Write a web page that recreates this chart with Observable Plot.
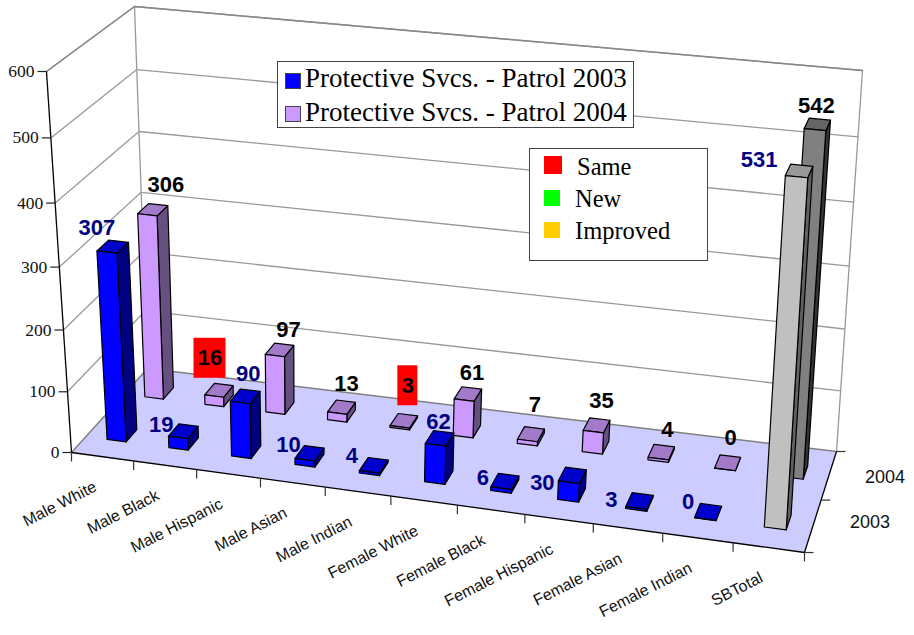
<!DOCTYPE html>
<html><head><meta charset="utf-8">
<script src="https://cdn.jsdelivr.net/npm/d3@7"></script>
<script src="https://cdn.jsdelivr.net/npm/@observablehq/plot@0.6"></script>
<style>
html,body{margin:0;padding:0;background:#fff}
#wrap{position:relative;width:914px;height:635px;overflow:hidden}
.lg{position:absolute;background:#fff;border:1.5px solid #444;box-sizing:border-box;font-family:"Liberation Serif",serif;color:#000;white-space:nowrap}
.row{position:absolute;line-height:1}
.sw{position:absolute;box-sizing:border-box}
</style></head><body><div id="wrap"></div>
<script>
const categories = ["Male White","Male Black","Male Hispanic","Male Asian","Male Indian","Female White","Female Black","Female Hispanic","Female Asian","Female Indian","SBTotal"];
const values2003 = [307,19,90,10,4,62,6,30,3,0,531];
const values2004 = [306,16,97,13,3,61,7,35,4,0,542];
const seriesLabels = ["2003","2004"];
const valueTicks = [0,100,200,300,400,500,600];
const highlighted2004 = ["Male Black","Male Indian"];

// Label displacement from the top of its bar, screen px
const nudge2003 = [[-16,-19],[-22,-6],[3,-22],[-21,-8],[-22,-9],[-1,-16],[-22,-3],[-30,8],[-28,-1],[-20,-10],[-40,-11]];
const nudge2004 = [[13,-25],[-9,-32],[9,-20],[5,-23],[4,-35],[4,-21],[4,-29],[5,-24],[6,-22],[3,-25],[-1,-18]];

const pal = {
  blue:{front:"#0000ff",top:"#0000cc",side:"#000080"},
  lilac:{front:"#cc99ff",top:"#a37ac9",side:"#665080"},
  g1:{front:"#c0c0c0",top:"#999999",side:"#606060"},
  g2:{front:"#808080",top:"#666666",side:"#333333"}
};

// Perspective frame of the 3-D box
function homography(q){
  const [[x0,y0],[x1,y1],[x2,y2],[x3,y3]] = q;
  const dx1=x1-x2,dx2=x3-x2,sx=x0-x1+x2-x3,dy1=y1-y2,dy2=y3-y2,sy=y0-y1+y2-y3;
  const det=dx1*dy2-dx2*dy1;
  const g=(sx*dy2-dx2*sy)/det,h=(dx1*sy-sx*dy1)/det;
  const a=x1-x0+g*x1,b=x3-x0+h*x3,d=y1-y0+g*y1,e=y3-y0+h*y3;
  return (u,v)=>{const n=g*u+h*v+1;return [(a*u+b*v+x0)/n,(d*u+e*v+y0)/n];};
}
const floorH = homography([[71,452],[804,552],[836,451],[147,368]]);
const ceilH  = homography([[46,71],[829,146],[862,70],[134,6]]);
const K = 1.055, VMAX = 600, N = categories.length, ODDS = 1.0428;
function P(u0,v,val){
  const u = ODDS*u0/(1+(ODDS-1)*u0);
  const w = val/VMAX, t = w/(w+K*(1-w));
  const a = floorH(u,v), b = ceilH(u,v);
  return [a[0]+(b[0]-a[0])*t, a[1]+(b[1]-a[1])*t];
}
const HALF = 0.155, DEPTH = [[0.18,0.32],[0.68,0.82]];

// Faces of the bars, back row first
const faces = [], labels = [];
[[values2004,1,nudge2004],[values2003,0,nudge2003]].forEach(([vals,row,nudge])=>{
  vals.forEach((val,i)=>{
    const c = i===N-1 ? (row?pal.g2:pal.g1) : (row?pal.lilac:pal.blue);
    const u0=(i+.5-HALF)/N,u1=(i+.5+HALF)/N,[v0,v1]=DEPTH[row];
    const add=(name,pts)=>pts.forEach(p=>faces.push({id:`${row}-${i}-${name}`,x:p[0],y:p[1],fill:c[name]}));
    add("side",[P(u1,v0,0),P(u1,v1,0),P(u1,v1,val),P(u1,v0,val)]);
    add("top",[P(u0,v0,val),P(u1,v0,val),P(u1,v1,val),P(u0,v1,val)]);
    add("front",[P(u0,v0,0),P(u1,v0,0),P(u1,v0,val),P(u0,v0,val)]);
    const t=P((i+.5)/N,(v0+v1)/2,val);
    labels.push({x:t[0]+nudge[i][0],y:t[1]+nudge[i][1],text:String(val),row,
      hi:row===1&&highlighted2004.includes(categories[i])});
  });
});
const floorPoly=[P(0,0,0),P(1,0,0),P(1,1,0),P(0,1,0)].map(p=>({x:p[0],y:p[1]}));
const seg=(a,b)=>({x1:a[0],y1:a[1],x2:b[0],y2:b[1]});
const grid=[...valueTicks.filter(t=>t>0).flatMap(t=>[seg(P(0,0,t),P(0,1,t)),seg(P(0,1,t),P(1,1,t))]),
  seg(P(0,1,0),P(0,1,VMAX)),seg(P(1,1,0),P(1,1,VMAX))];
const floorBack=[seg(P(0,0,0),P(0,1,0)),seg(P(0,1,0),P(1,1,0))];
const axisLines=[seg(P(0,0,0),P(0,0,VMAX)),seg(P(0,0,0),P(1,0,0)),seg(P(1,0,0),P(1,1,0))];
const yTicks=valueTicks.map(t=>{const p=P(0,0,t);return {...seg([p[0]-9,p[1]],p),lab:String(t),lx:p[0]-12,ly:p[1]};});
const xTicks=d3.range(N+1).map(i=>{const p=P(i/N,0,0);return seg(p,[p[0],p[1]+9]);});
const dTicks=[0,.5,1].map(v=>{const p=P(1,v,0);return seg(p,[p[0]+9,p[1]]);});
const catLabels=categories.map((c,i)=>{const p=P((i+.5)/N,0,0);return {x:p[0]-7,y:p[1]+29,text:c};});
const depthLabels=seriesLabels.map((s,i)=>{const p=P(1,i?.75:.25,0);return {x:p[0]+(i?56:57),y:p[1]+(i?2:-4),text:s};});
const redBoxes=labels.filter(d=>d.hi).map(d=>{const hw=d.text.length>1?16:10;return {x1:d.x-hw,x2:d.x+hw,y1:d.y-20,y2:d.y+20};});

const chart=Plot.plot({
  width:914,height:635,margin:0,
  x:{type:"identity",axis:null},y:{type:"identity",axis:null},color:{type:"identity"},
  style:{background:"#fff"},
  marks:[
    Plot.line(floorPoly,{x:"x",y:"y",fill:"#ccccff",stroke:"none",curve:"linear-closed"}),
    Plot.link(grid,{x1:"x1",y1:"y1",x2:"x2",y2:"y2",stroke:"#999",strokeWidth:1.3}),
    Plot.line([P(0,0,VMAX),P(0,1,VMAX),P(1,1,VMAX)],{x:d=>d[0],y:d=>d[1],stroke:"#888",strokeWidth:1.5}),
    Plot.link(floorBack,{x1:"x1",y1:"y1",x2:"x2",y2:"y2",stroke:"#808080",strokeWidth:1.5}),
    Plot.link(axisLines,{x1:"x1",y1:"y1",x2:"x2",y2:"y2",stroke:"#000",strokeWidth:1.3}),
    Plot.link(yTicks,{x1:"x1",y1:"y1",x2:"x2",y2:"y2",stroke:"#222",strokeWidth:1.2}),
    Plot.link(xTicks,{x1:"x1",y1:"y1",x2:"x2",y2:"y2",stroke:"#333",strokeWidth:1.2}),
    Plot.link(dTicks,{x1:"x1",y1:"y1",x2:"x2",y2:"y2",stroke:"#333",strokeWidth:1.2}),
    Plot.text(yTicks,{x:"lx",y:"ly",text:"lab",textAnchor:"end",fontFamily:"Liberation Serif",fontSize:17.5,fill:"#111"}),
    Plot.text(catLabels,{x:"x",y:"y",text:"text",textAnchor:"end",rotate:-27,fontFamily:"Liberation Sans",fontSize:16,fill:"#111"}),
    Plot.text(depthLabels,{x:"x",y:"y",text:"text",fontFamily:"Liberation Sans",fontSize:18,fill:"#111"}),
    Plot.line(faces,{x:"x",y:"y",z:"id",fill:"fill",stroke:"#000",strokeWidth:1.2,curve:"linear-closed"}),
    Plot.rect(redBoxes,{x1:"x1",x2:"x2",y1:"y1",y2:"y2",fill:"#ff0000"}),
    Plot.text(labels,{x:"x",y:"y",text:"text",fontFamily:"Liberation Sans",fontWeight:"bold",fontSize:22,fill:d=>d.row?"#000000":"#000080"})
  ]
});
const wrap=document.getElementById("wrap");
wrap.appendChild(chart);

function legend(box,items){
  const el=document.createElement("div");el.className="lg";
  Object.assign(el.style,{left:box[0]+"px",top:box[1]+"px",width:box[2]+"px",height:box[3]+"px"});
  items.forEach(it=>{
    const s=document.createElement("div");s.className="sw";
    Object.assign(s.style,{left:it.sx-box[0]+"px",top:it.sy-box[1]+"px",width:it.sw+"px",height:it.sh+"px",background:it.color,border:it.border||"none"});
    el.appendChild(s);
    const t=document.createElement("div");t.className="row";t.textContent=it.text;
    Object.assign(t.style,{left:it.tx-box[0]+"px",top:it.ty-box[1]+"px",fontSize:it.fs+"px"});
    el.appendChild(t);
  });
  wrap.appendChild(el);
}
legend([277,61,357,67],[
 {text:"Protective Svcs. - Patrol 2003",color:"#0000ff",border:"1.5px solid #444",sx:284,sy:72,sw:16,sh:16,tx:304,ty:64,fs:27},
 {text:"Protective Svcs. - Patrol 2004",color:"#cc99ff",border:"1.5px solid #444",sx:284,sy:105,sw:16,sh:16,tx:304,ty:98,fs:27}
]);
legend([529,148,179,113],[
 {text:"Same",color:"#ff0000",sx:543,sy:155,sw:18,sh:18,tx:576,ty:154,fs:24.5},
 {text:"New",color:"#00ff00",sx:543,sy:189,sw:16,sh:16,tx:574,ty:186,fs:24.5},
 {text:"Improved",color:"#ffcc00",sx:543,sy:221,sw:16,sh:16,tx:574,ty:218,fs:24.5}
]);
</script></body></html>
